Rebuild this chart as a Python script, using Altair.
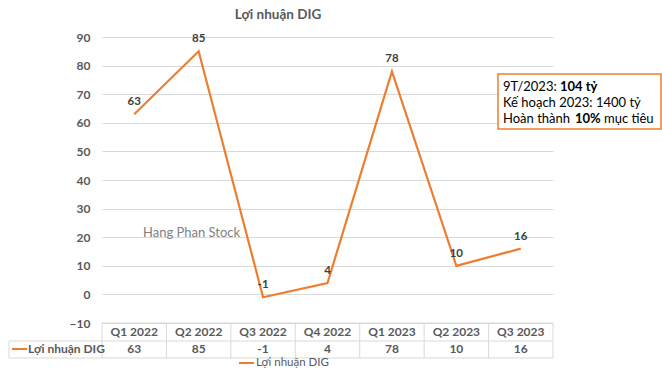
import altair as alt
import pandas as pd

quarters = ["Q1 2022", "Q2 2022", "Q3 2022", "Q4 2022", "Q1 2023", "Q2 2023", "Q3 2023"]
profit = [63, 85, -1, 4, 78, 10, 16]
series_name = "Lợi nhuận DIG"
chart_title = "Lợi nhuận DIG"
watermark = "Hang Phan Stock"
y_ticks = [-10, 0, 10, 20, 30, 40, 50, 60, 70, 80, 90]

box_lines = [
    {"text": "9T/2023:", "x": 401, "y": 50, "w": "normal"},
    {"text": "104 tỷ", "x": 458, "y": 50, "w": "bold"},
    {"text": "Kế hoạch 2023: 1400 tỷ", "x": 401, "y": 66, "w": "normal"},
    {"text": "Hoàn thành", "x": 401, "y": 82, "w": "normal"},
    {"text": "10%", "x": 473, "y": 82, "w": "bold"},
    {"text": "mục tiêu", "x": 502, "y": 82, "w": "normal"},
]

ORANGE = "#ED7D31"
GRID = "#d9d9d9"
GRAY = "#595959"
FONT = "Lato"
W, H = 451, 286

df = pd.DataFrame({"quarter": quarters, "profit": profit})
df["label"] = df["profit"].astype(str)

xscale = alt.Scale(domain=quarters, paddingInner=0, paddingOuter=0)
yscale = alt.Scale(domain=[-10, 90], nice=False, zero=False)
yaxis = alt.Axis(values=y_ticks, grid=True, gridColor=GRID, gridWidth=1,
                 domain=False, ticks=False, labelFont=FONT, labelFontSize=12,
                 labelFontWeight="bold", labelColor=GRAY, labelPadding=12,
                 labelOverlap=False, labelFlush=False, title=None)


def X(pos):
    return alt.X("quarter:N", sort=quarters, scale=xscale, bandPosition=pos, axis=None)


Y = alt.Y("profit:Q", scale=yscale, axis=yaxis)

base = alt.Chart(df)

line = base.mark_line(color=ORANGE, strokeWidth=2.2).encode(x=X(0.5), y=Y)

labels = base.mark_text(font=FONT, fontSize=11.5, fontWeight="bold", color="#404040", dy=-12).encode(
    x=X(0.5), y=Y, text="label:N")

# data table under the plot
header = base.mark_text(font=FONT, fontSize=12, fontWeight="bold", color=GRAY).encode(
    x=X(0.5), y=alt.value(295), text="quarter:N")
values_row = base.mark_text(font=FONT, fontSize=12, fontWeight="bold", color=GRAY).encode(
    x=X(0.5), y=alt.value(312), text="label:N")
vborders = base.mark_rule(color=GRID, strokeWidth=1).encode(
    x=X(0), y=alt.value(286), y2=alt.value(321))

one = alt.Chart(pd.DataFrame({"name": [series_name]}))
vright = one.mark_rule(color=GRID, strokeWidth=1).encode(
    x=alt.value(W), y=alt.value(286), y2=alt.value(321))
vleft = one.mark_rule(color=GRID, strokeWidth=1).encode(
    x=alt.value(-93), y=alt.value(304), y2=alt.value(321))
htop = one.mark_rule(color=GRID, strokeWidth=1).encode(
    x=alt.value(0), x2=alt.value(W), y=alt.value(286))
hmid = one.mark_rule(color=GRID, strokeWidth=1).encode(
    x=alt.value(-93), x2=alt.value(W), y=alt.value(304))
hbot = one.mark_rule(color=GRID, strokeWidth=1).encode(
    x=alt.value(-93), x2=alt.value(W), y=alt.value(321))

row_swatch = one.mark_rule(color=ORANGE, strokeWidth=2).encode(
    x=alt.value(-90), x2=alt.value(-75), y=alt.value(312))
row_name = one.mark_text(font=FONT, fontSize=12, fontWeight="bold", color=GRAY, align="left").encode(
    x=alt.value(-74), y=alt.value(312), text="name:N")

leg_swatch = one.mark_rule(color=ORANGE, strokeWidth=2).encode(
    x=alt.value(137), x2=alt.value(152), y=alt.value(326))
leg_name = one.mark_text(font=FONT, fontSize=11.5, color=GRAY, align="left").encode(
    x=alt.value(154), y=alt.value(326), text="name:N")

title = alt.Chart(pd.DataFrame({"t": [chart_title]})).mark_text(
    font=FONT, fontSize=13.5, fontWeight="bold", color=GRAY).encode(
    x=alt.value(176), y=alt.value(-22), text="t:N")

wm = alt.Chart(pd.DataFrame({"t": [watermark]})).mark_text(
    font=FONT, fontSize=13, color="#808080", align="left").encode(
    x=alt.value(41), y=alt.value(196), text="t:N")

box = one.mark_rect(fill="white", stroke=ORANGE, strokeWidth=1.5).encode(
    x=alt.value(396), x2=alt.value(559), y=alt.value(37), y2=alt.value(92))

box_df = pd.DataFrame(box_lines)
box_text_n = alt.Chart(box_df).transform_filter(alt.datum.w == "normal").mark_text(
    font=FONT, fontSize=13, color="black", align="left").encode(
    x=alt.X("x:Q", scale=None, axis=None), y=alt.Y("y:Q", scale=None, axis=None), text="text:N")
box_text_b = alt.Chart(box_df).transform_filter(alt.datum.w == "bold").mark_text(
    font=FONT, fontSize=13, fontWeight="bold", color="black", align="left").encode(
    x=alt.X("x:Q", scale=None, axis=None), y=alt.Y("y:Q", scale=None, axis=None), text="text:N")

chart = alt.layer(
    line, labels, wm, header, values_row, vborders, vright, vleft, htop, hmid, hbot,
    row_swatch, row_name, leg_swatch, leg_name, title, box, box_text_n, box_text_b,
).properties(
    width=W, height=H,
    background="white",
    padding={"left": 102, "top": 37, "right": 109, "bottom": 54},
    autosize=alt.AutoSizeParams(type="none"),
).configure_view(strokeWidth=0, stroke="transparent")

chart.save("out.html", embed_options={"renderer": "svg", "actions": False})
